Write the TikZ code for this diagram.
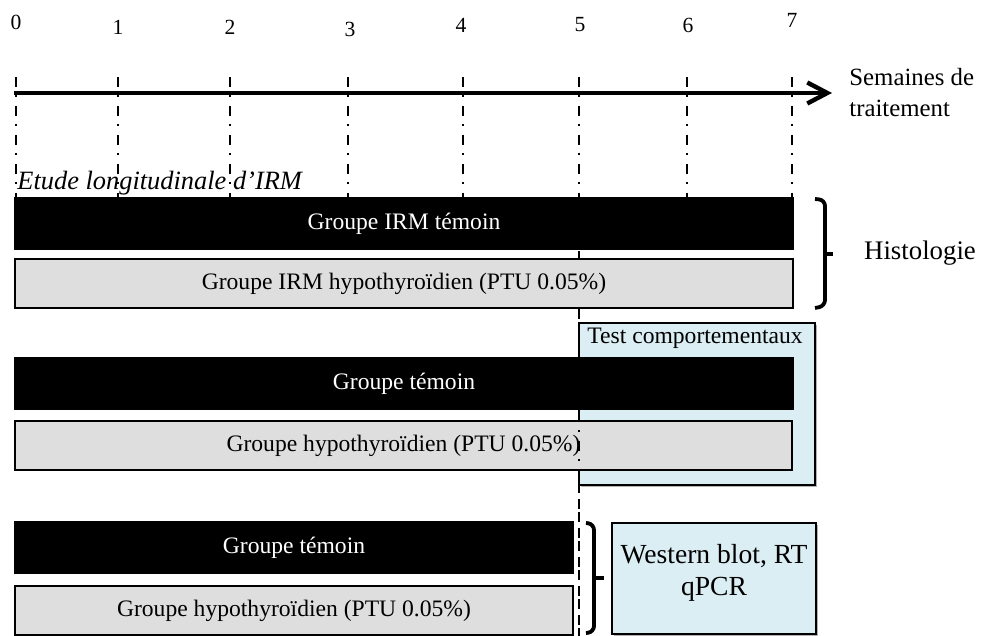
\documentclass[tikz,border=0pt]{standalone}
\usepackage{fontspec}
\setmainfont{Liberation Serif}
\usetikzlibrary{arrows.meta,shadows}
\definecolor{bargrey}{HTML}{DEDEDE}
\definecolor{boxblue}{HTML}{DBEEF4}
\begin{document}
\begin{tikzpicture}[x=0.5pt,y=-0.5pt,
  txt/.style={font=\fontsize{11.8}{14}\selectfont, inner sep=0pt},
  numlbl/.style={font=\fontsize{10.8}{12}\selectfont, inner sep=0pt},
  blackbar/.style={txt, draw=black, fill=black, text=white, line width=1pt, outer sep=0pt},
  greybar/.style={txt, draw=black, fill=bargrey, line width=1pt, outer sep=0pt},
  bluebox/.style={draw=black, fill=boxblue, line width=1pt, inner sep=0pt, outer sep=0pt,
    drop shadow={shadow xshift=1.2pt, shadow yshift=-1.2pt, fill=black, opacity=0.3}},
  tickline/.style={line width=1.3pt, dash pattern=on 5pt off 4pt on 1pt off 4.5pt},
  bracestyle/.style={line width=1.9pt, rounded corners=3pt},
  axisline/.style={line width=1.7pt, -{Straight Barb[length=10pt,width=10.5pt,line width=2.2pt]}}
]
\useasboundingbox (0,0) rectangle (984,636);

% tick labels
\node[numlbl] (n0) at (16,22) {0};
\node[numlbl] (n1) at (118,27) {1};
\node[numlbl] (n2) at (230,27) {2};
\node[numlbl] (n3) at (350,29) {3};
\node[numlbl] (n4) at (461,25) {4};
\node[numlbl] (n5) at (580,25) {5};
\node[numlbl] (n6) at (688,25) {6};
\node[numlbl] (n7) at (792,20) {7};

% tick lines
\foreach \xx in {16,118,230,348,463,687,792} {
  \draw[tickline] (\xx,77) -- (\xx,198);
}
\draw[tickline] (579,77) -- (579,636);

% axis
\coordinate (axstart) at (14,93);
\coordinate (axend) at (832,93);
\draw[axisline] (axstart) -- (axend);
\node[txt, font=\fontsize{12.4}{15.5}\selectfont, anchor=west, align=left] (semaines) at (849,93) {Semaines de\\traitement};

\node[txt, font=\fontsize{13.2}{15}\selectfont\itshape, anchor=base west] (etude) at (17,190) {Etude longitudinale d’IRM};

% top group
\node[blackbar, minimum width=389pt, minimum height=25.5pt] (b1) at (404,223.5) {Groupe IRM témoin};
\node[greybar, minimum width=389pt, minimum height=24.5pt] (g1) at (404,283.5) {Groupe IRM hypothyroïdien (PTU 0.05\%)};
\draw[bracestyle] (815,199) -- (825,200) -- (825,306) -- (815,308);
\draw[line width=2pt] (824,253.5) coordinate (br1tip0) -- (833,253.5) coordinate (br1tip);
\node[txt, font=\fontsize{13.4}{15}\selectfont] (histo) at (920,253) {Histologie};

% behavioural tests box
\node[bluebox, minimum width=118pt, minimum height=81pt] (test) at (697,404) {};
\node[txt, anchor=north west] (testlbl) at (587,328) {Test comportementaux};

% middle group
\node[blackbar, minimum width=389pt, minimum height=25.5pt] (b2) at (404,383.5) {Groupe témoin};
\node[greybar, minimum width=388.5pt, minimum height=24.5pt] (g2) at (403.5,445.5) {Groupe hypothyroïdien (PTU 0.05\%)};
\draw[tickline] (579,412) -- (579,636);

% bottom group
\node[blackbar, minimum width=279pt, minimum height=25.5pt] (b3) at (294,547.5) {Groupe témoin};
\node[greybar, minimum width=279pt, minimum height=24.5pt] (g3) at (294,610.5) {Groupe hypothyroïdien (PTU 0.05\%)};
\draw[bracestyle] (586,523) -- (594,524) -- (594,632) -- (586,633);
\draw[line width=2pt] (593,577.5) coordinate (br2tip0) -- (604,577.5) coordinate (br2tip);
\node[bluebox, minimum width=102pt, minimum height=55.5pt] (wb) at (714,578.5) {};
\node[txt, font=\fontsize{13.8}{16}\selectfont, align=center] (wblbl) at (714,573) {Western blot, RT\\qPCR};
\end{tikzpicture}
\end{document}
